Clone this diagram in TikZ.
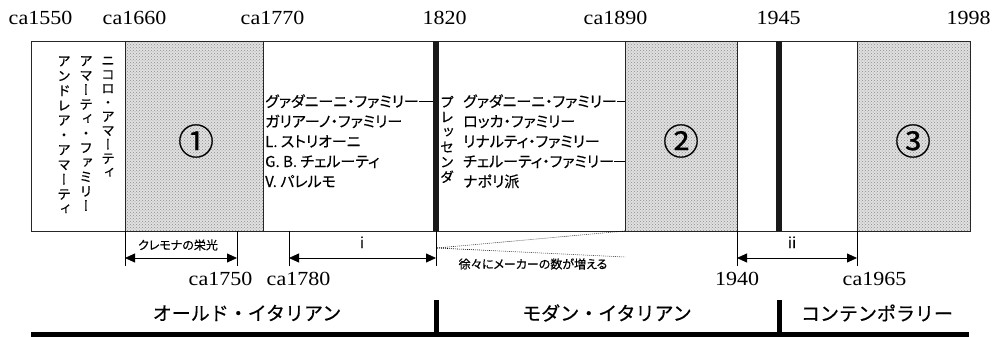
\documentclass[tikz,border=0pt]{standalone}
\usepackage{fontspec}
\newfontfamily\yrfont{Liberation Serif}
\newfontfamily\jp[FakeBold=0.5]{Noto Sans CJK JP}
\newfontfamily\jpp[RawFeature=+palt,FakeBold=0.4]{Noto Sans CJK JP}
\newfontfamily\jpv[RawFeature=+vert,FakeBold=0.4]{Noto Sans CJK JP}
\usetikzlibrary{arrows.meta,patterns}

\ExplSyntaxOn
\NewDocumentCommand\vstack{mm}{
  \vbox{\offinterlineskip
    \tl_map_inline:nn {#2}{
      \hbox_to_wd:nn{#1}{\hss\vrule height 0.8\dimexpr#1\relax depth 0.2\dimexpr#1\relax width 0pt ##1\hss}
    }
  }
}
\ExplSyntaxOff
\newcommand\yrtext[1]{\scalebox{1.1}[1]{\yrfont #1}}

\begin{document}
\begin{tikzpicture}[x=1pt,y=-1pt,
  frame/.style={draw=black!85,line width=0.8pt},
  shaded/.style={fill=black!12,postaction={pattern=crosshatch dots,pattern color=black!45}},
  thick line/.style={line width=5.5pt,draw=black!90},
  thin/.style={draw=black,line width=0.8pt},
  yr/.style={font=\fontsize{20}{24}\selectfont,inner sep=0,anchor=base},
  row/.style={font=\jpp\fontsize{15}{18}\selectfont,inner sep=0,anchor=base west},
  vcol/.style={font=\jpv\fontsize{13.5}{16}\selectfont,inner sep=0,anchor=north},
  era/.style={font=\jp\fontsize{19}{22}\selectfont,inner sep=0},
  small/.style={font=\jpp\fontsize{12}{14}\selectfont,inner sep=0},
  roman/.style={font=\jp\fontsize{15}{18}\selectfont,inner sep=0,anchor=base},
  circ/.style={font=\jpp\fontsize{36}{40}\selectfont,inner sep=0},
  dim/.style={draw=black,line width=0.8pt,{Triangle[length=10pt,width=9pt]}-{Triangle[length=10pt,width=9pt]}},
  tick/.style={draw=black,line width=0.7pt},
  wedge/.style={draw=black,line width=0.6pt,dash pattern=on 0.8pt off 1.2pt}]
\useasboundingbox (0,0) rectangle (997,337);

% shaded periods
\path[shaded] (125,41) rectangle (263,231);
\path[shaded] (625,41) rectangle (737,231);
\path[shaded] (857,41) rectangle (970,231);

% frame and separators
\draw[frame] (31,41) rectangle (970,231);
\draw[frame] (125,41) -- (125,231);
\draw[frame] (263,41) -- (263,231);
\draw[frame] (625,41) -- (625,231);
\draw[frame] (737,41) -- (737,231);
\draw[frame] (857,41) -- (857,231);
\draw[thick line] (436,41) -- (436,231);
\draw[thick line] (779,41) -- (779,231);

% top year labels
\node[yr] (y1550) at (40.5,25) {\yrtext{ca1550}};
\node[yr] (y1660) at (134.5,25) {\yrtext{ca1660}};
\node[yr] (y1770) at (272.5,25) {\yrtext{ca1770}};
\node[yr] (y1820) at (444.5,25) {\yrtext{1820}};
\node[yr] (y1890) at (615.5,25) {\yrtext{ca1890}};
\node[yr] (y1945) at (778.5,25) {\yrtext{1945}};
\node[yr] (y1998) at (968.5,25) {\yrtext{1998}};

% vertical names
\node[vcol] (v1) at (108,54) {\vstack{14pt}{ニコロ・アマーティ}};
\node[vcol] (v2) at (86,54) {\vstack{14.5pt}{アマーティ・ファミリー}};
\node[vcol] (v3) at (64,54) {\vstack{14.8pt}{アンドレア・アマーティ}};
\node[vcol,font=\jpv\fontsize{14}{16}\selectfont] (v4) at (447,95) {\vstack{15pt}{プレッセンダ}};

% circled numbers
\node[circ] (n1) at (196,141) {①};
\node[circ] (n2) at (681,141) {②};
\node[circ] (n3) at (913,141) {③};

% rows left
\node[row] (L1) at (265,107) {グァダニーニ・ファミリー};
\node[row] (L2) at (265,127) {ガリアーノ・ファミリー};
\node[row] (L3) at (265,147) {L. ストリオーニ};
\node[row] (L4) at (265,167) {G. B. チェルーティ};
\node[row] (L5) at (265,187) {V. パレルモ};
\coordinate (e1) at (433,0);
\draw[thin] (L1.east) -- (L1.east -| e1);

% rows right
\node[row] (R1) at (463,107) {グァダニーニ・ファミリー};
\node[row] (R2) at (463,127) {ロッカ・ファミリー};
\node[row] (R3) at (463,147) {リナルティ・ファミリー};
\node[row] (R4) at (463,167) {チェルーティ・ファミリー};
\node[row] (R5) at (463,187) {ナポリ派};
\coordinate (e2) at (625,0);
\draw[thin] (R1.east) -- (R1.east -| e2);
\draw[thin] (R4.east) -- (R4.east -| e2);

% dimension ticks
\foreach \x/\n in {125/a,237/b,289/c,436/d,737/f,857/g}{
  \coordinate (top\n) at (\x,231);
  \coordinate (bot\n) at (\x,266);
  \coordinate (mid\n) at (\x,258);
  \draw[tick] (top\n) -- (bot\n);
}
\draw[dim] (mida) -- (midb);
\draw[dim] (midc) -- (midd);
\draw[dim] (midf) -- (midg);

\node[small] (cre) at (178,245) {クレモナの栄光};
\node[roman] (ri) at (362,248) {i};
\node[roman] (rii) at (792,248) {ii};

% wedge
\coordinate (w0) at (437,248);
\coordinate (w1) at (625,231);
\coordinate (w2) at (625,257);
\draw[wedge] (w0) -- (w1);
\draw[wedge] (w0) -- (w2);
\node[small] (inc) at (533,264) {徐々にメーカーの数が増える};

% bottom year labels
\node[yr] (y1750) at (220.5,285) {\yrtext{ca1750}};
\node[yr] (y1780) at (298.5,285) {\yrtext{ca1780}};
\node[yr] (y1940) at (737,285) {\yrtext{1940}};
\node[yr] (y1965) at (874.5,285) {\yrtext{ca1965}};

% eras
\node[era] (old) at (247,313) {オールド・イタリアン};
\node[era] (mod) at (607,313) {モダン・イタリアン};
\node[era] (con) at (877,313) {コンテンポラリー};
\coordinate (b0) at (31,334.5);
\coordinate (b1) at (969,334.5);
\draw[line width=5pt] (b0) -- (b1);
\draw[line width=5pt] (436,300) -- (436,334.5);
\draw[line width=5pt] (779,300) -- (779,334.5);
\end{tikzpicture}
\end{document}
